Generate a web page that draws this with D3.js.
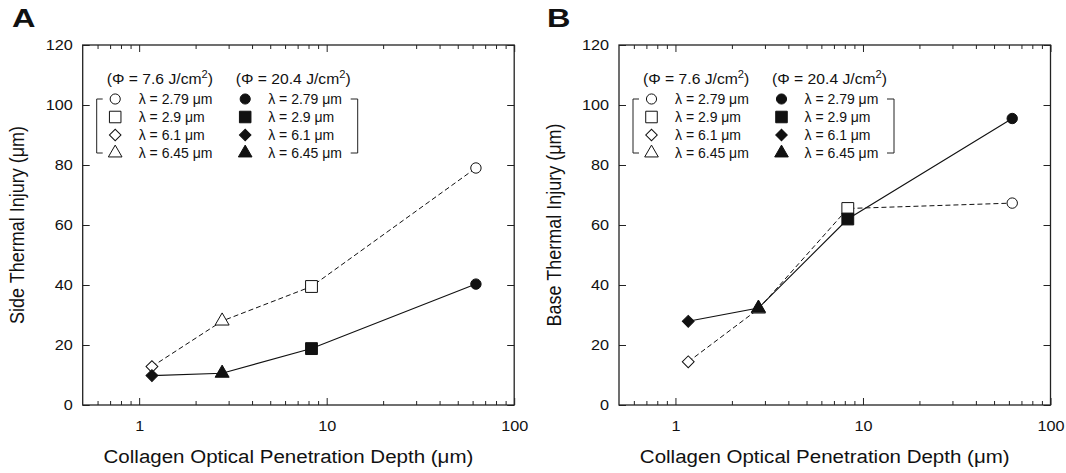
<!DOCTYPE html>
<html>
<head>
<meta charset="utf-8">
<script src="https://cdn.jsdelivr.net/npm/d3@7"></script>
<style>
  body { margin: 0; background: #fff; }
  svg { display: block; font-family: "Liberation Sans", Arial, sans-serif; }
</style>
</head>
<body>
<svg id="chart" width="1066" height="473"></svg>
<script>
// penetration depth (um) for lambda = 6.1, 6.45, 2.9, 2.79 um
var depth = [1.17, 2.77, 8.3, 62.5];
var shapes = ["diamond", "triangle", "square", "circle"];
var legendLambda = ["2.79", "2.9", "6.1", "6.45"];
var legendShapes = ["circle", "square", "diamond", "triangle"];

// side thermal injury (um)
var sideLow = [12.8, 28.0, 39.5, 79.0];   // 7.6 J/cm2
var sideHigh = [9.8, 10.6, 18.8, 40.3];   // 20.4 J/cm2
// base thermal injury (um)
var baseLow = [14.4, 32.0, 65.5, 67.3];
var baseHigh = [27.9, 32.3, 62.0, 95.5];

var xMajor = [1, 10, 100];
var xMinor = [0.6, 0.7, 0.8, 0.9, 2, 3, 4, 5, 6, 7, 8, 9, 20, 30, 40, 50, 60, 70, 80, 90];
var yTicks = [0, 20, 40, 60, 80, 100, 120];

var svg = d3.select("#chart");

function symbolPath(shape, size) {
  if (shape == "circle") return d3.symbol(d3.symbolCircle, size)();
  if (shape == "triangle") return d3.symbol(d3.symbolTriangle, size)();
  return d3.symbol(d3.symbolSquare, size)(); // square, and diamond = rotated square
}

function drawMarker(g, shape, cx, cy, filled, scale) {
  var sizes = { circle: 85, square: 140, triangle: 85, diamond: 70 };
  var s = sizes[shape] * (scale || 1);
  var rot = shape == "diamond" ? " rotate(45)" : "";
  g.append("path")
    .attr("d", symbolPath(shape, s))
    .attr("transform", "translate(" + cx + "," + cy + ")" + rot)
    .attr("fill", filled ? "#111" : "#fff")
    .attr("stroke", "#111")
    .attr("stroke-width", 1);
}

function stretchText(g, x, y, str, size, sx, anchor, weight) {
  return g.append("text")
    .attr("transform", "translate(" + x + "," + y + ") scale(" + sx + ",1)")
    .attr("text-anchor", anchor || "start")
    .attr("font-size", size)
    .attr("font-weight", weight || "normal")
    .attr("fill", "#111")
    .text(str);
}

function drawPanel(x0, label, labelX, ytitle, ytitleX, lowVals, highVals) {
  var x1 = x0 + 431.5, yTop = 45, yBot = 405;
  var x = d3.scaleLog().domain([0.5, 100]).range([x0, x1]);
  var y = d3.scaleLinear().domain([0, 120]).range([yBot, yTop]);
  var g = svg.append("g");
  var tsx = 1.12;

  // axes, ticks point inward on all four sides
  var bottomMajor = g.append("g").attr("transform", "translate(0," + yBot + ")")
    .call(d3.axisBottom(x).tickValues(xMajor).tickSize(-7).tickPadding(16).tickFormat(d3.format("d")));
  g.append("g").attr("transform", "translate(0," + yBot + ")")
    .call(d3.axisBottom(x).tickValues(xMinor).tickSize(-4).tickFormat(""));
  g.append("g").attr("transform", "translate(0," + yTop + ")")
    .call(d3.axisTop(x).tickValues(xMajor).tickSize(-7).tickFormat(""));
  g.append("g").attr("transform", "translate(0," + yTop + ")")
    .call(d3.axisTop(x).tickValues(xMinor).tickSize(-4).tickFormat(""));
  var leftAxis = g.append("g").attr("transform", "translate(" + x0 + ",0)")
    .call(d3.axisLeft(y).tickValues(yTicks).tickSize(-7).tickFormat(d3.format("d")));
  g.append("g").attr("transform", "translate(" + x1 + ",0)")
    .call(d3.axisRight(y).tickValues(yTicks).tickSize(-7).tickFormat(""));

  g.selectAll(".domain").remove();
  g.selectAll(".tick line").attr("stroke", "#222").attr("stroke-width", 1);
  g.selectAll(".tick text")
    .attr("font-size", 14.5)
    .attr("font-family", "Liberation Sans, Arial, sans-serif")
    .attr("fill", "#111");
  bottomMajor.selectAll(".tick text").attr("transform", "scale(" + tsx + ",1)");
  leftAxis.selectAll(".tick text").attr("transform", "scale(" + tsx + ",1)").attr("x", -10 / tsx);

  g.append("rect")
    .attr("x", x0).attr("y", yTop)
    .attr("width", x1 - x0).attr("height", yBot - yTop)
    .attr("fill", "none").attr("stroke", "#222").attr("stroke-width", 1.3);

  // data
  var line = d3.line().x(function(d) { return x(d[0]); }).y(function(d) { return y(d[1]); });
  var lowPts = depth.map(function(d, i) { return [d, lowVals[i]]; });
  var highPts = depth.map(function(d, i) { return [d, highVals[i]]; });

  g.append("path").attr("d", line(lowPts))
    .attr("fill", "none").attr("stroke", "#111").attr("stroke-width", 1)
    .attr("stroke-dasharray", "5,3");
  lowPts.forEach(function(p, i) { drawMarker(g, shapes[i], x(p[0]), y(p[1]), false); });

  g.append("path").attr("d", line(highPts))
    .attr("fill", "none").attr("stroke", "#111").attr("stroke-width", 1.1);
  highPts.forEach(function(p, i) { drawMarker(g, shapes[i], x(p[0]), y(p[1]), true); });

  // legend
  var lg = g.append("g").attr("transform", "translate(" + x0 + ",0)");
  var h1 = stretchText(lg, 24, 84, "(Φ = 7.6 J/cm", 14, 1.12);
  h1.append("tspan").attr("font-size", 10).attr("dy", -6).text("2");
  h1.append("tspan").attr("dy", 6).text(")");
  var h2 = stretchText(lg, 153, 84, "(Φ = 20.4 J/cm", 14, 1.12);
  h2.append("tspan").attr("font-size", 10).attr("dy", -6).text("2");
  h2.append("tspan").attr("dy", 6).text(")");

  var rowY = [99, 117, 135, 153];
  legendShapes.forEach(function(s, i) {
    drawMarker(lg, s, 32.5, rowY[i], false, 0.95);
    stretchText(lg, 56, rowY[i] + 5, "λ = " + legendLambda[i] + " μm", 14, 1.0);
    drawMarker(lg, s, 162.5, rowY[i], true, 0.95);
    stretchText(lg, 185.5, rowY[i] + 5, "λ = " + legendLambda[i] + " μm", 14, 1.0);
  });
  lg.append("path")
    .attr("d", "M20," + rowY[0] + "H14V" + rowY[3] + "H20")
    .attr("fill", "none").attr("stroke", "#222").attr("stroke-width", 1);
  lg.append("path")
    .attr("d", "M268," + rowY[0] + "H275V" + rowY[3] + "H268")
    .attr("fill", "none").attr("stroke", "#222").attr("stroke-width", 1);

  // titles
  stretchText(g, (x0 + x1) / 2 - 10, 463, "Collagen Optical Penetration Depth (μm)", 19, 1.08, "middle");
  g.append("text")
    .attr("transform", "translate(" + ytitleX + "," + ((yTop + yBot) / 2) + ") rotate(-90) scale(1,1.12)")
    .attr("text-anchor", "middle")
    .attr("font-size", 18)
    .attr("fill", "#111")
    .text(ytitle);
  stretchText(g, labelX, 27, label, 26, 1.25, "start", "bold");
}

drawPanel(82.7, "A", 12, "Side Thermal Injury (μm)", 24, sideLow, sideHigh);
drawPanel(619, "B", 547, "Base Thermal Injury (μm)", 561, baseLow, baseHigh);
</script>
</body>
</html>
